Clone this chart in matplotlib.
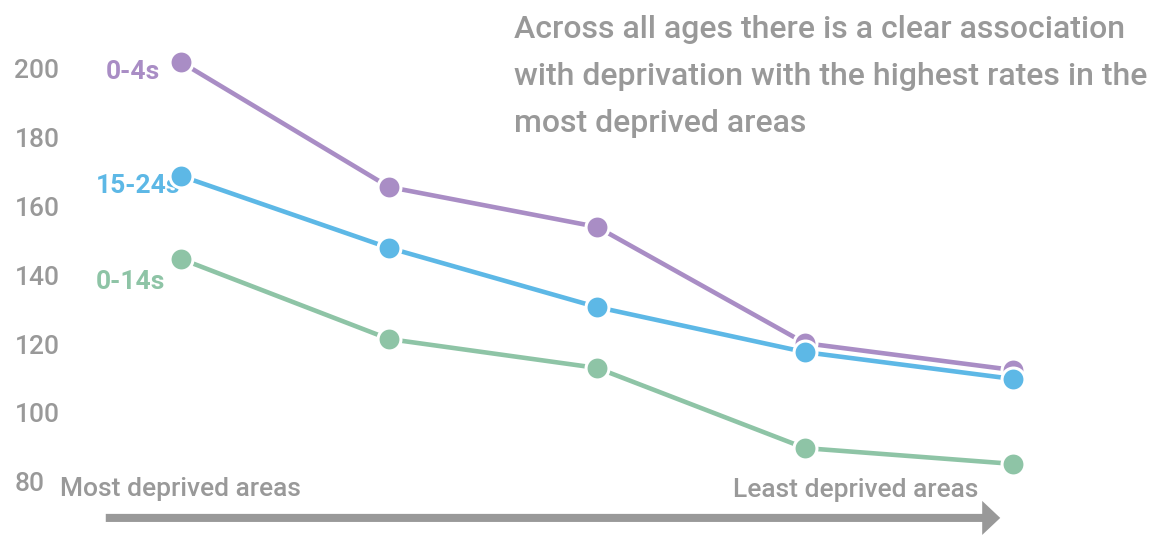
import matplotlib.pyplot as plt
from matplotlib.patches import FancyArrowPatch

# deprivation quintiles, most -> least deprived
quintiles = [1, 2, 3, 4, 5]
rate_0_4 = [202.0, 165.7, 154.1, 120.3, 112.5]
rate_15_24 = [168.9, 148.0, 130.8, 117.7, 109.9]
rate_0_14 = [144.8, 121.5, 113.1, 89.8, 85.2]
yticks = [80, 100, 120, 140, 160, 180, 200]

purple = '#A98DC5'
blue = '#5DB8E6'
green = '#8EC4A6'
grey = '#999999'

plt.rcParams['font.family'] = ['Roboto', 'DejaVu Sans']

fig = plt.figure(figsize=(11.53, 5.4), dpi=100)
ax = fig.add_axes([70 / 1153, 0, 1 - 70 / 1153, 1])

series = [(rate_0_4, purple), (rate_15_24, blue), (rate_0_14, green)]
for vals, col in series:
    ax.plot(quintiles, vals, color=col, lw=3.3, marker='o', ms=16.5,
            mfc=col, mec='white', mew=2.2, solid_capstyle='butt', zorder=3)

# series labels (sit under the first markers)
ax.text(0.899, 199.1, '0-4s', color=purple, fontsize=19, fontweight='bold',
        ha='right', va='center', zorder=1)
ax.text(0.995, 166.0, '15-24s', color=blue, fontsize=19, fontweight='bold',
        ha='right', va='center', zorder=1)
ax.text(0.923, 138.2, '0-14s', color=green, fontsize=19, fontweight='bold',
        ha='right', va='center', zorder=1)

ax.text(0.418, 77.9, 'Most deprived areas', color=grey, fontsize=19,
        fontweight='medium', ha='left', va='center')
ax.text(4.832, 77.6, 'Least deprived areas', color=grey, fontsize=19,
        fontweight='medium', ha='right', va='center')

ax.text(2.60, 215.6, 'Across all ages there is a clear association\n'
        'with deprivation with the highest rates in the\n'
        'most deprived areas', color=grey, fontsize=23, fontweight='medium',
        ha='left', va='top', linespacing=1.78)

arrow = FancyArrowPatch((0.625, 69.5), (4.952, 69.5),
                        arrowstyle='simple,head_width=2.45,tail_width=0.58,head_length=1.3',
                        mutation_scale=10, color=grey, lw=0, clip_on=False)
ax.add_patch(arrow)

ax.set_xlim(1 - (181 - 70) / 208, 1 + (1153 - 181) / 208)
ax.set_ylim(200 - (540 - 69) / 3.44, 200 + 69 / 3.44)
ax.set_yticks(yticks)
ax.set_yticklabels([str(t) for t in yticks], color=grey, fontsize=19,
                   fontweight='medium', ha='left')
ax.set_xticks([])
ax.tick_params(axis='y', length=0, pad=40)
for s in ax.spines.values():
    s.set_visible(False)

fig.savefig('out.png', dpi=100)
